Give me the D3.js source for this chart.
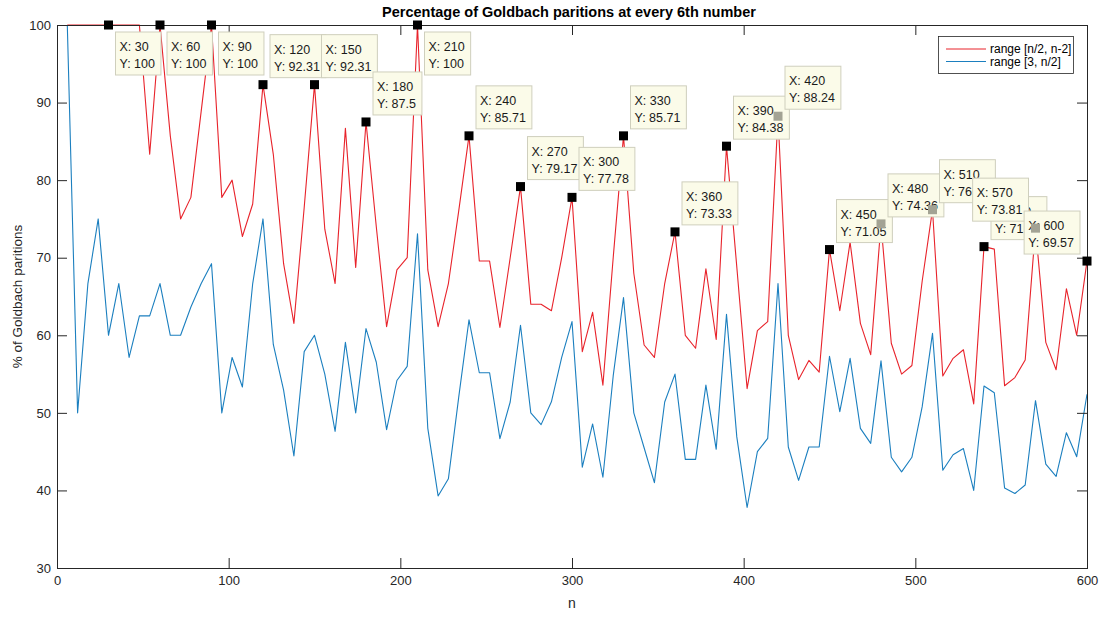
<!DOCTYPE html>
<html>
<head>
<meta charset="utf-8">
<script src="https://cdn.jsdelivr.net/npm/d3@7/dist/d3.min.js"></script>
<style>
  body { margin: 0; background: #fff; }
  svg { display: block; }
  text { font-family: "Liberation Sans", Arial, Helvetica, sans-serif; }
</style>
</head>
<body>
<svg id="chart" width="1113" height="617"></svg>
<script>
// Even numbers n, sampled every 6th
const nValues = [
  6, 12, 18, 24, 30, 36, 42, 48, 54, 60, 66, 72, 78, 84, 90, 96, 102, 108, 114, 120,
  126, 132, 138, 144, 150, 156, 162, 168, 174, 180, 186, 192, 198, 204, 210, 216, 222, 228, 234, 240,
  246, 252, 258, 264, 270, 276, 282, 288, 294, 300, 306, 312, 318, 324, 330, 336, 342, 348, 354, 360,
  366, 372, 378, 384, 390, 396, 402, 408, 414, 420, 426, 432, 438, 444, 450, 456, 462, 468, 474, 480,
  486, 492, 498, 504, 510, 516, 522, 528, 534, 540, 546, 552, 558, 564, 570, 576, 582, 588, 594, 600
];

// % of primes p in [n/2, n-2] for which n-p is also prime
const upperRange = [
  100, 100, 100, 100, 100, 100, 100, 100, 83.33, 100, 85.71, 75, 77.78, 88.89, 100, 77.78, 80, 72.73, 76.92, 92.31,
  83.33, 69.23, 61.54, 76.47, 92.31, 73.68, 66.67, 86.67, 68.75, 87.5, 74, 61.11, 68.42, 70, 100, 68.42, 61.11, 66.67, 76, 85.71,
  69.57, 69.57, 61, 70, 79.17, 64, 64, 63.16, 70, 77.78, 57.89, 62.96, 53.57, 70, 85.71, 68, 58.75, 57.14, 66.67, 73.33,
  60, 58.33, 68.57, 59.46, 84.38, 68.8, 53.13, 60.61, 61.76, 88.24, 60, 54.29, 56.76, 55.26, 71.05, 63.16, 72, 61.54, 57.5, 74.36,
  58.97, 55, 56.1, 67, 76.19, 54.76, 57.03, 58.14, 51.16, 71.43, 71.11, 53.49, 54.55, 56.82, 73.81, 59.09, 55.56, 66, 60, 69.57
];

// % of primes p in [3, n/2] for which n-p is also prime
const lowerRange = [
  100, 50, 66.67, 75, 60, 66.67, 57.14, 62.5, 62.5, 66.67, 60, 60, 63.64, 66.67, 69.23, 50, 57.14, 53.33, 66.67, 75,
  58.82, 52.94, 44.44, 57.89, 60, 55, 47.62, 59.09, 50, 60.87, 56.52, 47.83, 54.17, 56, 73.08, 48, 39.29, 41.5, 52, 62,
  55.17, 55.17, 46.67, 51.4, 61.29, 50, 48.48, 51.43, 57.14, 61.76, 43, 48.57, 41.7, 54.76, 64.86, 50, 45.5, 41, 51.4, 55,
  44, 44, 53.57, 45.3, 62.7, 46.9, 37.8, 45, 46.7, 66.67, 45.6, 41.3, 45.6, 45.6, 57.3, 50.15, 57.03, 48, 46.07, 56.7,
  44.27, 42.4, 44.27, 50.8, 60.25, 42.6, 44.6, 45.4, 40, 53.46, 52.6, 40.3, 39.6, 40.7, 51.57, 43.4, 41.8, 47.44, 44.35, 52.4
];

// Data tips pinned on the upper-range curve
const tipN = [30, 60, 90, 120, 150, 180, 210, 240, 270, 300, 330, 360, 390, 420, 450, 480, 510, 540, 570, 600];
// Which side of its marker each tip box opens to (b = below, t = above, r = right, l = left)
const tipSide = ['br', 'br', 'br', 'tr', 'tr', 'tr', 'br', 'tr', 'tr', 'tr', 'tr', 'tr', 'tr', 'tr', 'tr', 'tr', 'tr', 'tr', 'tl', 'tl'];

const xTicks = [0, 100, 200, 300, 400, 500, 600];
const yTicks = [30, 40, 50, 60, 70, 80, 90, 100];
const seriesNames = ['range [n/2, n-2]', 'range [3, n/2]'];

const RED = '#e8232b';
const BLUE = '#1b7fbf';
const AXIS = '#262626';

const plot = { left: 57, right: 1087, top: 25, bottom: 568 };
const svg = d3.select('#chart');

const x = d3.scaleLinear().domain([0, 600]).range([plot.left, plot.right]);
const y = d3.scaleLinear().domain([30, 100]).range([plot.bottom, plot.top]);

// Title
svg.append('text')
  .attr('x', 569)
  .attr('y', 17)
  .attr('text-anchor', 'middle')
  .attr('font-size', 14.5)
  .attr('font-weight', 'bold')
  .attr('fill', '#000')
  .text('Percentage of Goldbach paritions at every 6th number');

// Series lines
const line = d3.line().x((d, i) => x(nValues[i])).y(d => y(d));
svg.append('path').datum(upperRange)
  .attr('d', line).attr('fill', 'none').attr('stroke', RED).attr('stroke-width', 1.1)
  .attr('stroke-linejoin', 'round');
svg.append('path').datum(lowerRange)
  .attr('d', line).attr('fill', 'none').attr('stroke', BLUE).attr('stroke-width', 1.1)
  .attr('stroke-linejoin', 'round');

// Axes with inward ticks on all four sides
function styleAxis(g) {
  g.select('.domain').remove();
  g.selectAll('.tick line').attr('stroke', AXIS).attr('stroke-width', 1);
  g.selectAll('.tick text').attr('fill', AXIS).attr('font-size', 13)
    .attr('font-family', '"Liberation Sans", Arial, Helvetica, sans-serif');
}
svg.append('g').attr('transform', `translate(0,${plot.bottom})`)
  .call(d3.axisBottom(x).tickValues(xTicks).tickSize(-10).tickPadding(8).tickFormat(d3.format('d')))
  .call(styleAxis);
svg.append('g').attr('transform', `translate(0,${plot.top})`)
  .call(d3.axisTop(x).tickValues(xTicks).tickSize(-10).tickFormat(''))
  .call(styleAxis);
svg.append('g').attr('transform', `translate(${plot.left},0)`)
  .call(d3.axisLeft(y).tickValues(yTicks).tickSize(-10).tickPadding(6).tickFormat(d3.format('d')))
  .call(styleAxis);
svg.append('g').attr('transform', `translate(${plot.right},0)`)
  .call(d3.axisRight(y).tickValues(yTicks).tickSize(-10).tickFormat(''))
  .call(styleAxis);

svg.append('rect')
  .attr('x', plot.left).attr('y', plot.top)
  .attr('width', plot.right - plot.left).attr('height', plot.bottom - plot.top)
  .attr('fill', 'none').attr('stroke', AXIS).attr('stroke-width', 1)
  .attr('shape-rendering', 'crispEdges');

// Axis labels
svg.append('text')
  .attr('x', (plot.left + plot.right) / 2).attr('y', 608)
  .attr('text-anchor', 'middle').attr('font-size', 14).attr('fill', AXIS)
  .text('n');
svg.append('text')
  .attr('transform', `translate(22,${(plot.top + plot.bottom) / 2}) rotate(-90)`)
  .attr('text-anchor', 'middle').attr('font-size', 13.5).attr('fill', AXIS)
  .text('% of Goldbach paritions');

// Legend
const legend = svg.append('g');
legend.append('rect')
  .attr('x', 938.5).attr('y', 36.5).attr('width', 135).attr('height', 37)
  .attr('fill', '#fff').attr('stroke', AXIS).attr('stroke-width', 0.8);
[RED, BLUE].forEach((c, i) => {
  const ly = 49 + i * 12.5;
  legend.append('line').attr('x1', 946).attr('x2', 986).attr('y1', ly).attr('y2', ly)
    .attr('stroke', c).attr('stroke-width', 1);
  legend.append('text').attr('x', 990).attr('y', ly + 4).attr('font-size', 12).attr('fill', '#000')
    .text(seriesNames[i]);
});

// Data tips
const fmt = v => String(Number(v.toFixed(2)));
const tips = tipN.map((n, i) => {
  const v = upperRange[nValues.indexOf(n)];
  return { n, v, side: tipSide[i], mx: x(n), my: y(v) };
});

const tipLayer = svg.append('g');
const gap = 7, boxH = 43, pad = 4;
tips.forEach(t => {
  const g = tipLayer.append('g');
  const rect = g.append('rect').attr('fill', '#fbfbe9').attr('stroke', '#cfcfbd').attr('stroke-width', 1);
  const t1 = g.append('text').attr('font-size', 12.5).attr('fill', '#1a1a1a').text('X: ' + t.n);
  const t2 = g.append('text').attr('font-size', 12.5).attr('fill', '#1a1a1a').text('Y: ' + fmt(t.v));
  const w = Math.max(t1.node().getComputedTextLength(), t2.node().getComputedTextLength()) + 2 * pad + 2;
  const bx = t.side[1] === 'r' ? t.mx + gap : t.mx - gap - w;
  const by = t.side[0] === 'b' ? t.my + gap : t.my - gap - boxH;
  t.box = { x: bx, y: by, w, h: boxH };
  rect.attr('x', bx).attr('y', by).attr('width', w).attr('height', boxH);
  t1.attr('x', bx + pad).attr('y', by + 19);
  t2.attr('x', bx + pad).attr('y', by + 36);
});

// Markers: ones sitting under another tip's box show through it as grey
const inside = (t, b) => t.mx >= b.x && t.mx <= b.x + b.w && t.my >= b.y && t.my <= b.y + b.h;
tips.forEach(t => {
  const covered = tips.some(o => o !== t && inside(t, o.box));
  tipLayer.append('rect')
    .attr('x', t.mx - 4.5).attr('y', t.my - 4.5).attr('width', 9).attr('height', 9)
    .attr('fill', covered ? '#a3a394' : '#000');
});
</script>
</body>
</html>
